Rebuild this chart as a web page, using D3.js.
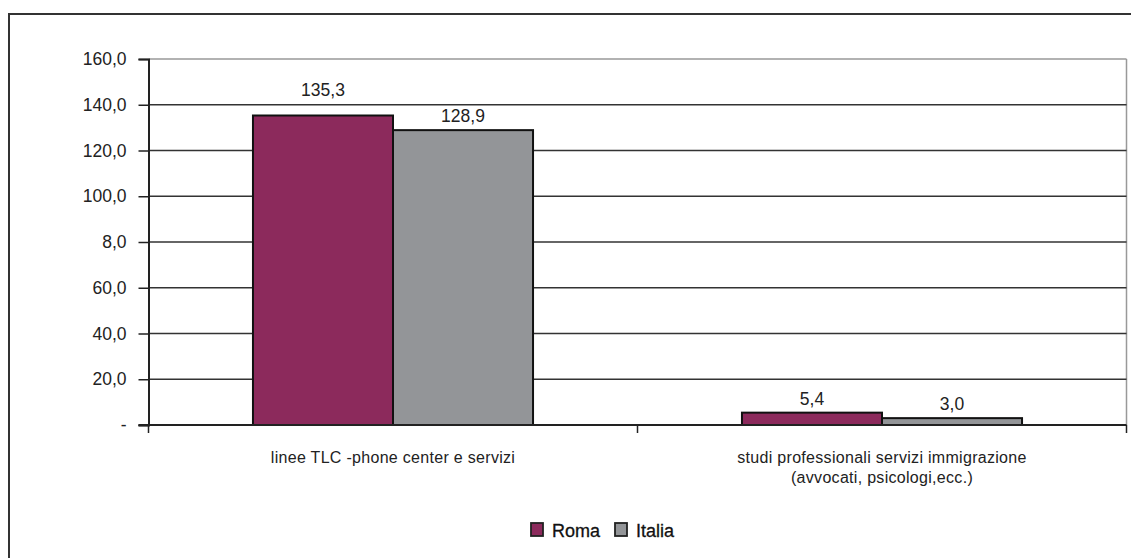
<!DOCTYPE html>
<html><head><meta charset="utf-8">
<script src="https://cdn.jsdelivr.net/npm/d3@7"></script>
<style>body{margin:0;background:#fff}svg{display:block}text{font-family:Arial,"Liberation Sans",sans-serif;fill:#222}</style>
</head><body>
<svg id="c" width="1131" height="558"></svg>
<script>
const categories = [["linee TLC -phone center e servizi"], ["studi professionali servizi immigrazione", "(avvocati, psicologi,ecc.)"]];
const seriesNames = ["Roma", "Italia"];
const roma = [135.3, 5.4];
const italia = [128.9, 3.0];
const valueLabels = [["135,3", "5,4"], ["128,9", "3,0"]];
const tickValues = [0, 20, 40, 60, 80, 100, 120, 140, 160];
const tickLabels = ["-", "20,0", "40,0", "60,0", "8,0", "100,0", "120,0", "140,0", "160,0"];
const colors = ["#8c2a5c", "#939598"];

const svg = d3.select("#c");
const FONT = "Arial, 'Liberation Sans', sans-serif";
// outer frame
svg.append("rect").attr("x", 9).attr("y", 14).attr("width", 1140).attr("height", 560)
  .attr("fill", "none").attr("stroke", "#333").attr("stroke-width", 2);

const L = 148.5, R = 1126.5, T = 59, B = 425;
const y = d3.scaleLinear().domain([0, 160]).range([B, T]);
const x0 = d3.scaleBand().domain(d3.range(categories.length)).range([L, R]).paddingInner(0).paddingOuter(0);
const x1 = d3.scaleBand().domain(d3.range(seriesNames.length)).range([0, x0.bandwidth()]).paddingOuter(0.746).paddingInner(0);

// plot frame (top & right gray)
svg.append("line").attr("x1", L).attr("x2", R).attr("y1", T).attr("y2", T).attr("stroke", "#999").attr("stroke-width", 1.5);
svg.append("line").attr("x1", R).attr("x2", R).attr("y1", T).attr("y2", B).attr("stroke", "#999").attr("stroke-width", 1.5);

// gridlines
const grid = tickValues.filter(v => v > 0 && v < 160);
svg.append("g").selectAll("line").data(grid).join("line")
  .attr("x1", L).attr("x2", R).attr("y1", d => y(d)).attr("y2", d => y(d))
  .attr("stroke", "#333").attr("stroke-width", 1.3);

// y axis
const yAxis = d3.axisLeft(y).tickValues(tickValues).tickFormat((d, i) => tickLabels[i]).tickSize(10).tickPadding(12);
const gy = svg.append("g").attr("transform", `translate(${L},0)`).call(yAxis);
gy.select(".domain").attr("stroke", "#222").attr("stroke-width", 2);
gy.selectAll(".tick line").attr("stroke", "#222").attr("stroke-width", 1.5);
gy.selectAll(".tick text").style("font-size", "17.5px").style("fill", "#222").style("font-family", FONT);

// bars
const data = [roma, italia];
const groups = svg.append("g").selectAll("g").data(categories.map((c, i) => i)).join("g")
  .attr("transform", d => `translate(${x0(d)},0)`);
groups.selectAll("rect").data(ci => data.map((s, si) => ({ si, v: s[ci], ci }))).join("rect")
  .attr("x", d => x1(d.si)).attr("width", x1.bandwidth())
  .attr("y", d => y(d.v)).attr("height", d => y(0) - y(d.v))
  .attr("fill", d => colors[d.si]).attr("stroke", "#111").attr("stroke-width", 2);
// value labels: placed just above bar; if a gridline crosses the label, lift it above the gridline
function labelY(v) {
  let base = y(v) - 8;
  const top = base - 13;
  grid.forEach(g => { const gy = y(g); if (gy > top && gy < base + 2) base = gy - 9; });
  return base;
}
groups.selectAll("text.v").data(ci => data.map((s, si) => ({ si, v: s[ci], ci }))).join("text")
  .attr("class", "v").attr("x", d => x1(d.si) + x1.bandwidth() / 2).attr("y", d => labelY(d.v))
  .attr("text-anchor", "middle").style("font-size", "17.5px").text(d => valueLabels[d.si][d.ci]);

// x axis
svg.append("line").attr("x1", L - 10).attr("x2", R).attr("y1", B).attr("y2", B).attr("stroke", "#222").attr("stroke-width", 2);
const bounds = [L, ...categories.map((c, i) => x0(i) + x0.bandwidth())];
svg.append("g").selectAll("line").data(bounds).join("line")
  .attr("x1", d => d).attr("x2", d => d).attr("y1", B).attr("y2", B + 8).attr("stroke", "#222").attr("stroke-width", 1.5);
svg.append("g").selectAll("text").data(categories.map((c, i) => i)).join("text")
  .attr("x", d => x0(d) + x0.bandwidth() / 2).attr("y", 463).attr("text-anchor", "middle")
  .style("font-size", "16px").style("letter-spacing", "0.3px")
  .selectAll("tspan").data(d => categories[d]).join("tspan")
  .attr("x", function () { return this.parentNode.getAttribute("x"); })
  .attr("dy", (d, i) => i === 0 ? 0 : 20).text(d => d);

// legend
const leg = svg.append("g");
const legX = [531, 615];
seriesNames.forEach((n, i) => {
  leg.append("rect").attr("x", legX[i]).attr("y", 523).attr("width", 12).attr("height", 13)
    .attr("fill", colors[i]).attr("stroke", "#222").attr("stroke-width", 1.8);
  leg.append("text").attr("x", legX[i] + 21).attr("y", 537).style("font-size", "18px")
    .style("fill", "#111").style("stroke", "#111").style("stroke-width", 0.3).text(n);
});
</script>
</body></html>
